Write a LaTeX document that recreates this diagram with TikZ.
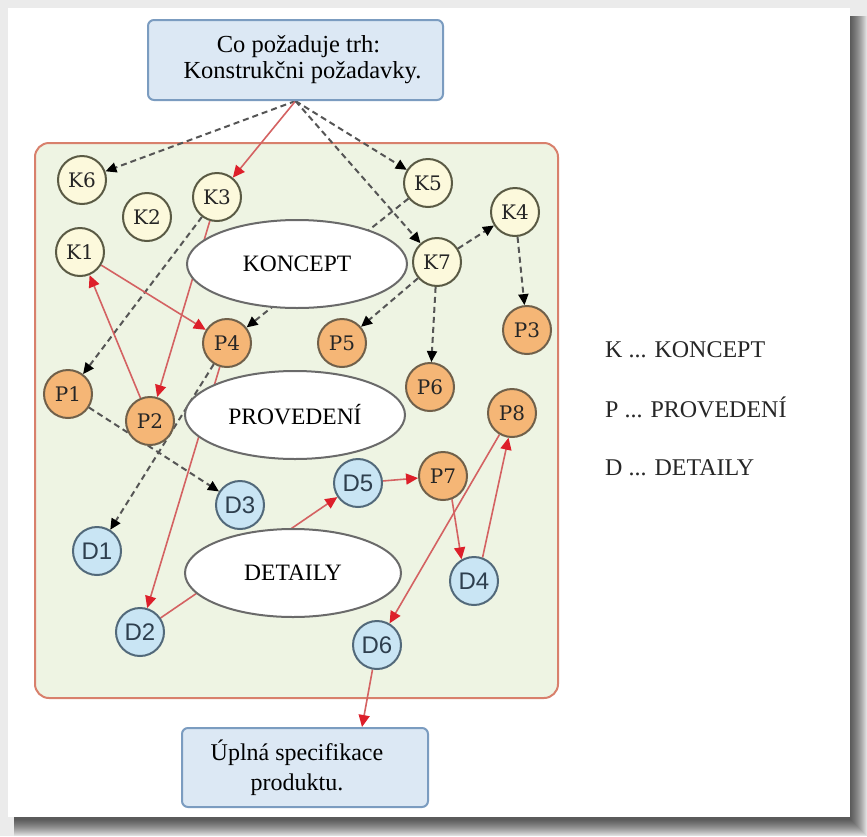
\documentclass[tikz,border=0pt]{standalone}
\usepackage{fontspec}
\setmainfont{Liberation Serif}
\newfontfamily\kpfont{DejaVu Serif}
\newfontfamily\dfont{Liberation Sans}
\usetikzlibrary{arrows.meta,shapes.geometric,calc}

\definecolor{pagebg}{HTML}{EBEBEB}
\definecolor{framefill}{HTML}{EEF4E3}
\definecolor{framedraw}{HTML}{D8806C}
\definecolor{boxfill}{HTML}{DCE8F4}
\definecolor{boxdraw}{HTML}{7B9CC0}
\definecolor{kfill}{HTML}{FCF9DC}
\definecolor{kdraw}{HTML}{5A5A44}
\definecolor{pfill}{HTML}{F5B676}
\definecolor{pdraw}{HTML}{70604A}
\definecolor{dfill}{HTML}{C9E5F4}
\definecolor{ddraw}{HTML}{52697A}
\definecolor{dtext}{HTML}{2E3F4E}
\definecolor{elldraw}{HTML}{6A6A6A}
\definecolor{redline}{HTML}{D46262}
\definecolor{redhead}{HTML}{DD1F2A}
\definecolor{dashline}{HTML}{555555}

\pgfdeclarelayer{back}
\pgfdeclarelayer{links}
\pgfsetlayers{back,links,main}

\begin{document}
\begin{tikzpicture}[x=1pt,y=-1pt,
  knode/.style={circle, minimum size=48pt, inner sep=0pt, line width=2pt,
    draw=kdraw, fill=kfill, text=black!85,
    font=\kpfont\fontsize{20}{20}\selectfont},
  pnode/.style={knode, draw=pdraw, fill=pfill},
  dnode/.style={knode, draw=ddraw, fill=dfill, text=dtext,
    font=\dfont\fontsize{24}{24}\selectfont},
  stage/.style={ellipse, draw=elldraw, fill=white, line width=2pt,
    minimum width=220pt, minimum height=88pt, inner sep=0pt,
    font=\fontsize{23.5}{23.5}\selectfont},
  infobox/.style={rectangle, rounded corners=6pt, draw=boxdraw, fill=boxfill,
    line width=2pt, align=center, inner sep=0pt},
  legend/.style={anchor=base west, inner sep=0pt, text=black!85,
    font=\fontsize{24}{24}\selectfont},
  redlink/.style={draw=redline, line width=1.6pt,
    -{Triangle[length=12pt,width=11pt,color=redhead]}},
  greylink/.style={draw=dashline, line width=2pt, dash pattern=on 6pt off 4pt,
    -{Triangle[length=11pt,width=10pt,color=black]}},
]
\useasboundingbox (0,0) rectangle (867,836);

% page card with its drop shadow, and the green frame
\begin{pgfonlayer}{back}
  \fill[pagebg] (0,0) rectangle (867,836);
  \foreach \i in {0,...,16}
    \fill[black,opacity=0.05] (14,16) rectangle (867-\i,836-\i);
  \fill[white] (8,8) rectangle (850,817);
  \filldraw[fill=framefill, draw=framedraw, line width=2pt, rounded corners=14pt]
    (35,143) rectangle (558,698);
\end{pgfonlayer}

% input and output boxes
\node[infobox, minimum width=295pt, minimum height=80pt,
  font=\fontsize{24.5}{26}\selectfont] (top) at (295.5,60)
  {\hspace*{6pt}Co požaduje trh:\\\hspace*{14pt}Konstrukčni požadavky.};
\node[infobox, minimum width=246pt, minimum height=79pt,
  font=\fontsize{24}{30}\selectfont] (bot) at (305,767.5)
  {\hspace*{-16pt}Úplná specifikace\\\hspace*{-16pt}produktu.};
\coordinate (botin) at ($(bot.north)+(57,0)$);

% stage ellipses
\node[stage] (koncept) at (297,264) {KONCEPT};
\node[stage] (provedeni) at (295,415) {PROVEDENÍ};
\node[stage, minimum width=216pt] (detaily) at (293,573) {DETAILY};

% concept nodes
\node[knode] (K6) at (82,180) {K6};
\node[knode] (K2) at (147,217) {K2};
\node[knode] (K3) at (217,197) {K3};
\node[knode] (K1) at (80,252) {K1};
\node[knode] (K5) at (428,183) {K5};
\node[knode] (K4) at (515,212) {K4};
\node[knode] (K7) at (437,262) {K7};

% design nodes
\node[pnode] (P4) at (227,343) {P4};
\node[pnode] (P5) at (342,343) {P5};
\node[pnode] (P3) at (527,330) {P3};
\node[pnode] (P6) at (430,387) {P6};
\node[pnode] (P8) at (512,413) {P8};
\node[pnode] (P7) at (443,476) {P7};
\node[pnode] (P1) at (68,394) {P1};
\node[pnode] (P2) at (150,421) {P2};

% detail nodes
\node[dnode] (D5) at (358,483) {D5};
\node[dnode] (D4) at (474,581) {D4};
\node[dnode] (D6) at (377,645) {D6};
\node[dnode] (D3) at (240,505) {D3};
\node[dnode] (D1) at (97,551) {D1};
\node[dnode] (D2) at (140,632) {D2};

% legend
\node[legend] (legK) at (605,357) {K ... KONCEPT};
\node[legend] (legP) at (605,417) {P ... PROVEDENÍ};
\node[legend] (legD) at (605,475) {D ... DETAILY};

% connectors, kept underneath the nodes and ellipses
\begin{pgfonlayer}{links}
  \draw[greylink] (top.south) -- (K6);
  \draw[redlink]  (top.south) -- (K3);
  \draw[greylink] (top.south) -- (K5);
  \draw[greylink] (top.south) -- (K7);
  \draw[redlink]  (K3) -- (P2);
  \draw[greylink] (K3) -- (P1);
  \draw[redlink]  (K1) -- (P4);
  \draw[redlink]  (P2) -- (K1);
  \draw[greylink] (K5) -- (P4);
  \draw[greylink] (K7) -- (K4);
  \draw[greylink] (K4) -- (P3);
  \draw[greylink] (K7) -- (P5);
  \draw[greylink] (K7) -- (P6);
  \draw[redlink]  (P4) -- (D2);
  \draw[greylink] (P4) -- (D1);
  \draw[greylink] (P1) -- (D3);
  \draw[redlink]  (D2) -- (D5);
  \draw[redlink]  (D5) -- (P7);
  \draw[redlink]  (P7.-69) -- (D4.120);
  \draw[redlink]  (D4.70) -- (P8.-98);
  \draw[redlink]  (P8) -- (D6);
  \draw[redlink]  (D6) -- (botin);
\end{pgfonlayer}
\end{tikzpicture}
\end{document}
